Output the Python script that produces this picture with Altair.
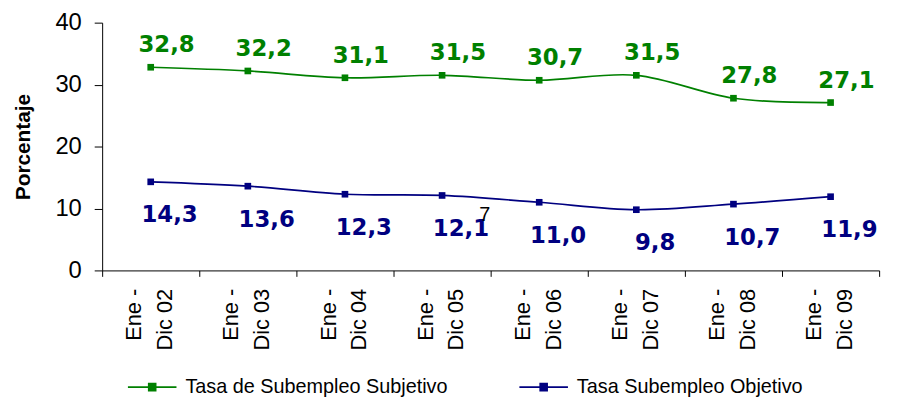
import altair as alt
import pandas as pd

categories = ["Ene - Dic 02", "Ene - Dic 03", "Ene - Dic 04", "Ene - Dic 05",
              "Ene - Dic 06", "Ene - Dic 07", "Ene - Dic 08", "Ene - Dic 09"]
subjetivo = [32.8, 32.2, 31.1, 31.5, 30.7, 31.5, 27.8, 27.1]
objetivo = [14.3, 13.6, 12.3, 12.1, 11.0, 9.8, 10.7, 11.9]
series_names = ["Tasa de Subempleo Subjetivo", "Tasa Subempleo Objetivo"]
colors = ["#008000", "#000080"]
stray_note = ["7"]

rows = []
for name, vals in zip(series_names, [subjetivo, objetivo]):
    for c, v in zip(categories, vals):
        rows.append({"periodo": c, "serie": name, "valor": v,
                     "etiqueta": f"{v:.1f}".replace(".", ",")})
df = pd.DataFrame(rows)

stray_df = pd.DataFrame({"periodo": [categories[3]], "valor": [objetivo[3]], "t": stray_note})

xenc = alt.X("periodo:N", sort=categories,
             scale=alt.Scale(type="band", paddingInner=0, paddingOuter=0),
             axis=alt.Axis(title=None, labelAngle=-90, tickBand="extent",
                           labelExpr="[slice(datum.label, 0, 5), slice(datum.label, 6)]",
                           labelFont="Liberation Sans", labelFontSize=22,
                           labelColor="black", labelLineHeight=31,
                           labelPadding=12, labelOffset=-17, tickSize=6,
                           tickColor="black", domainColor="black",
                           labelBaseline="middle"))
yenc = alt.Y("valor:Q", scale=alt.Scale(domain=[0, 40], nice=False),
             axis=alt.Axis(title="Porcentaje", values=[0, 10, 20, 30, 40],
                           grid=False, tickSize=8, tickColor="black",
                           domainColor="black", labelFont="Liberation Sans",
                           labelFontSize=24, labelColor="black", labelPadding=13,
                           titleFont="Liberation Sans", titleFontSize=21,
                           titleFontWeight="bold", titleColor="black",
                           titlePadding=22))
color = alt.Color("serie:N",
                  scale=alt.Scale(domain=series_names, range=colors),
                  legend=alt.Legend(title=None, orient="none", legendX=25, legendY=342,
                                    direction="horizontal",
                                    symbolType="M-1,0H1M-0.14,-0.14H0.14V0.14H-0.14Z",
                                    symbolSize=2400, symbolStrokeWidth=1.8,
                                    labelFont="Liberation Sans", labelFontSize=20,
                                    labelColor="black", labelLimit=0,
                                    columnPadding=68, labelOffset=8))

base = alt.Chart(df).encode(x=xenc, y=yenc, color=color)

line = base.mark_line(interpolate="cardinal", strokeWidth=1.7)
pts = base.mark_point(shape="square", filled=True, size=45, opacity=1)

lab_g = base.transform_filter(alt.datum.serie == series_names[0]).mark_text(
    font="DejaVu Sans", fontWeight="bold", fontSize=23, dx=16, dy=-22
).encode(text="etiqueta:N")
lab_b = base.transform_filter(alt.datum.serie == series_names[1]).mark_text(
    font="DejaVu Sans", fontWeight="bold", fontSize=23, dx=19, dy=34
).encode(text="etiqueta:N")

stray = alt.Chart(stray_df).mark_text(
    font="Liberation Sans", fontSize=20, color="black", dx=43, dy=20
).encode(x=alt.X("periodo:N", sort=categories), y="valor:Q", text="t:N")

chart = alt.layer(line, pts, lab_g, lab_b, stray).properties(
    width=784, height=250,
    padding={"left": 95, "top": 13, "right": 16, "bottom": 132},
    autosize=alt.AutoSizeParams(type="none"),
    background="white"
).configure_view(stroke=None)

chart.save("out.html", embed_options={"renderer": "svg", "actions": False})
